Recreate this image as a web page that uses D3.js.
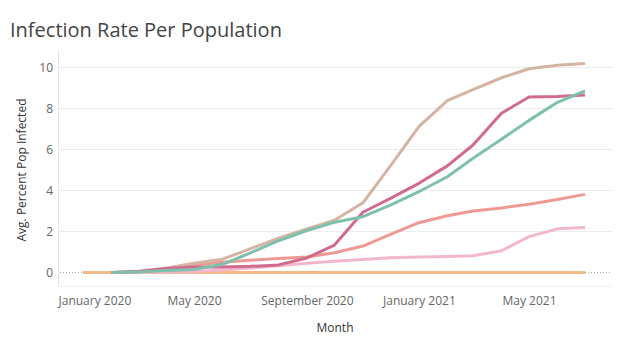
<!DOCTYPE html>
<html>
<head>
<meta charset="utf-8">
<script src="https://cdn.jsdelivr.net/npm/d3@7"></script>
<style>
    body { margin: 0; background: #fff; }
    text { font-family: "Open Sans", "Noto Sans", sans-serif; }
</style>
</head>
<body>
<div id="chart"></div>
<script>
// data
const months = ["2020-01", "2020-02", "2020-03", "2020-04", "2020-05", "2020-06", "2020-07", "2020-08", "2020-09", "2020-10",
    "2020-11", "2020-12", "2021-01", "2021-02", "2021-03", "2021-04", "2021-05", "2021-06", "2021-07"]
const tanValues = [null, 0, 0.05, 0.22, 0.45, 0.65, 1.15, 1.68, 2.12, 2.55, 3.4, 5.2, 7.12, 8.38, 8.92, 9.5, 9.94, 10.11, 10.19]
const tealValues = [null, 0, 0.03, 0.1, 0.15, 0.4, 0.95, 1.55, 2.05, 2.45, 2.72, 3.29, 3.94, 4.67, 5.57, 6.5, 7.42, 8.3, 8.86]
const roseValues = [null, 0, 0.05, 0.2, 0.27, 0.27, 0.3, 0.37, 0.71, 1.34, 2.94, 3.62, 4.35, 5.2, 6.22, 7.77, 8.56, 8.59, 8.66]
const salmonValues = [null, 0, 0.03, 0.12, 0.38, 0.5, 0.6, 0.68, 0.76, 0.96, 1.29, 1.86, 2.43, 2.77, 3.0, 3.15, 3.33, 3.56, 3.81]
const pinkValues = [null, 0, 0, 0.02, 0.05, 0.12, 0.22, 0.33, 0.45, 0.55, 0.64, 0.72, 0.76, 0.78, 0.82, 1.06, 1.75, 2.13, 2.2]
const orangeValues = [0, 0, 0, 0, 0, 0, 0, 0, 0, 0, 0, 0, 0, 0, 0, 0, 0, 0, 0]
const yTicks = [0, 2, 4, 6, 8, 10]

// drawn bottom to top
const series = [
    { values: orangeValues, colour: "#f0ba84" },
    { values: pinkValues, colour: "#f2b7cd" },
    { values: salmonValues, colour: "#ee9a92" },
    { values: tanValues, colour: "#d6b4a4" },
    { values: roseValues, colour: "#d06b8f" },
    { values: tealValues, colour: "#7fc0ac" }
]

const width = 637
const height = 351
const plot = { left: 58, right: 612, top: 50, bottom: 286 }

const parseMonth = d3.timeParse("%Y-%m")
const dates = months.map(parseMonth)

let svg = d3.select('div#chart').append('svg').attr("width", width).attr("height", height)

let x = d3.scaleTime().domain(d3.extent(dates)).range([83, 585])
let y = d3.scaleLinear().domain([0, 10]).range([272.5, 67.5])

// title
svg.append('text').attr('x', 10).attr('y', 37)
    .attr('font-size', 20).attr('fill', '#444')
    .text("Infection Rate Per Population")

// gridlines
let gridGroup = svg.append('g').attr('id', 'gridGroup')
gridGroup.selectAll('line').data(yTicks.filter(d => d != 0)).join('line')
    .attr('x1', plot.left).attr('x2', plot.right)
    .attr('y1', d => y(d)).attr('y2', d => y(d))
    .attr('stroke', '#ececec').attr('stroke-width', 1)

// zero line
svg.append('line')
    .attr('x1', plot.left + 2).attr('x2', plot.right)
    .attr('y1', y(0)).attr('y2', y(0))
    .attr('stroke', '#aaa').attr('stroke-width', 1).attr('stroke-dasharray', '1,2')

// plot frame (left + bottom)
svg.append('line').attr('x1', plot.left + 0.5).attr('x2', plot.left + 0.5)
    .attr('y1', plot.top).attr('y2', plot.bottom).attr('stroke', '#e6e6e6')
svg.append('line').attr('x1', plot.left).attr('x2', plot.right)
    .attr('y1', plot.bottom + 0.5).attr('y2', plot.bottom + 0.5).attr('stroke', '#f0f0f0')

// y axis
let yAxisGroup = svg.append('g').attr('id', 'yAxisGroup').attr('transform', `translate(${plot.left - 5}, 0)`)
let yAxis = d3.axisLeft(y).tickValues(yTicks).tickSize(0).tickPadding(0)
yAxisGroup.call(yAxis)
yAxisGroup.select('.domain').remove()
yAxisGroup.selectAll('text').attr('font-size', 12).attr('fill', '#666')
    .attr('font-family', '"Open Sans", sans-serif')

// x axis
let xAxisGroup = svg.append('g').attr('id', 'xAxisGroup').attr('transform', `translate(0, ${plot.bottom})`)
let xAxis = d3.axisBottom(x).ticks(d3.timeMonth.every(4)).tickFormat(d3.timeFormat("%B %Y")).tickSize(0).tickPadding(10)
xAxisGroup.call(xAxis)
xAxisGroup.select('.domain').remove()
xAxisGroup.selectAll('text').attr('font-size', 12).attr('fill', '#666')
    .attr('font-family', '"Open Sans", sans-serif')
// first label is pushed in so it starts at the frame
xAxisGroup.selectAll('.tick').filter((d, i) => i == 0).select('text')
    .attr('text-anchor', 'start').attr('x', plot.left - x(dates[0]))

// axis titles
svg.append('text').attr('transform', `translate(26, ${(plot.top + plot.bottom) / 2 + 2}) rotate(-90)`)
    .attr('text-anchor', 'middle').attr('font-size', 12).attr('fill', '#333')
    .text("Avg. Percent Pop Infected")
svg.append('text').attr('x', 335).attr('y', 332)
    .attr('text-anchor', 'middle').attr('font-size', 12).attr('fill', '#333')
    .text("Month")

// lines
let elementGroup = svg.append('g').attr('id', 'elementGroup')
let line = d3.line()
    .defined(d => d.v != null)
    .x(d => x(d.date))
    .y(d => y(d.v))

series.forEach(s => {
    let points = dates.map((d, i) => ({ date: d, v: s.values[i] }))
    elementGroup.append('path').datum(points)
        .attr('d', line)
        .attr('fill', 'none')
        .attr('stroke', s.colour)
        .attr('stroke-width', 3)
        .attr('stroke-linejoin', 'round')
})
</script>
</body>
</html>
